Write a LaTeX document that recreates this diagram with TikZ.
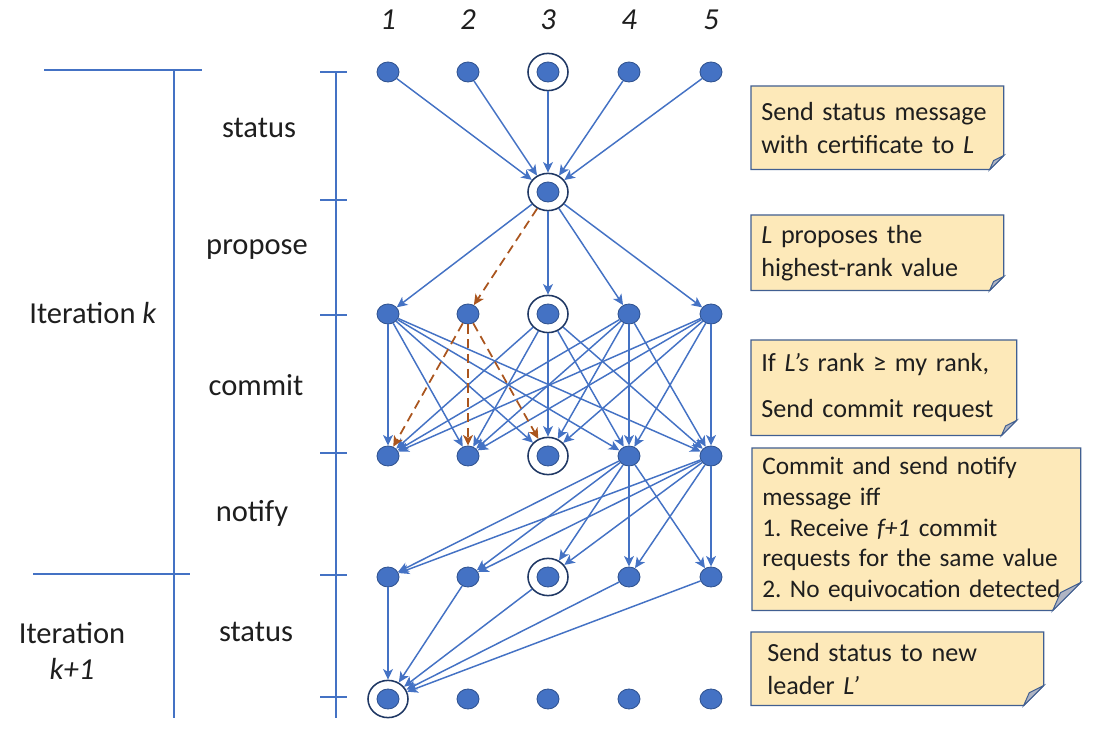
\documentclass[tikz,border=0pt]{standalone}
\usepackage{fontspec}
\setmainfont{Carlito}
\usetikzlibrary{arrows.meta,shapes.geometric,backgrounds,calc}
\definecolor{procblue}{RGB}{68,114,196}
\definecolor{procedge}{RGB}{47,82,143}
\definecolor{ringnavy}{RGB}{32,56,100}
\definecolor{equivbrown}{RGB}{170,85,30}
\definecolor{notefill}{RGB}{253,233,185}
\definecolor{noteedge}{RGB}{65,95,145}
\definecolor{foldgrey}{RGB}{175,180,195}
\definecolor{inkgrey}{RGB}{30,30,30}

% note box with folded corner, drawn behind node #1, fold size #2
\newcommand{\foldnote}[2]{%
  \begin{pgfonlayer}{background}
    \filldraw[fill=notefill, draw=noteedge, line width=0.9pt] (#1.north west) -- (#1.north east) -- ([yshift=#2]#1.south east) -- ([xshift=-#2]#1.south east) -- (#1.south west) -- cycle;
    \filldraw[fill=foldgrey, draw=noteedge, line width=0.7pt] ([yshift=#2]#1.south east) -- ([xshift=-#2]#1.south east) -- ([xshift=-0.72*#2,yshift=0.64*#2]#1.south east) -- cycle;
  \end{pgfonlayer}}

\tikzset{
  proc/.style={ellipse, fill=procblue, draw=procedge, line width=0.6pt, minimum width=0.55cm, minimum height=0.5cm, inner sep=0pt},
  ring/.style={ellipse, draw=ringnavy, line width=1.1pt, minimum width=1.0cm, minimum height=0.93cm, inner sep=0pt},
  msg/.style={-{Stealth[length=7.5pt,width=7pt,inset=2pt]}, procblue, line width=1.05pt},
  equiv/.style={msg, equivbrown, line width=1.25pt, dash pattern=on 6.5pt off 4pt},
  axis/.style={procblue, line width=1.1pt},
  phase/.style={font=\fontsize{21.7pt}{26pt}\selectfont, text=inkgrey, inner sep=0pt},
  colnum/.style={font=\fontsize{21.7pt}{26pt}\selectfont\itshape, text=inkgrey, inner sep=0pt},
  note/.style={anchor=north west, text width=#1, align=left, inner xsep=0.25cm, inner ysep=0pt, text=inkgrey, font=\fontsize{18.6pt}{23.5pt}\selectfont}
}

\begin{document}
\frenchspacing
\begin{tikzpicture}[x=0.025cm, y=-0.025cm]
  \useasboundingbox (0,0) rectangle (1100,734);

  % iteration brackets and phase axis
  \draw[axis] (44,70) -- (202,70);
  \draw[axis] (33,574) -- (190,574);
  \draw[axis] (174,70) -- (174,718);
  \draw[axis] (336,72) -- (336,718);
  \foreach \y in {72,200,315,453,575,697}
    \draw[axis] (320,\y) -- (347,\y);

  \node[phase] (iterk) at (93,313) {Iteration \textit{k}};
  \node[phase, align=center, font=\fontsize{21.7pt}{26pt}\selectfont] (iterknext) at (72,651) {Iteration\\\textit{k+1}};
  \node[phase] (statusA) at (259,128) {status};
  \node[phase] (propose) at (257,250) {propose};
  \node[phase] (commit) at (256,385) {commit};
  \node[phase] (notify) at (252,513) {notify};
  \node[phase] (statusB) at (256,632) {status};

  % processes
  \foreach \c/\x in {1/388,2/468,3/548,4/629,5/711} {
    \node[colnum] (num\c) at (\x,20) {\c};
    \foreach \r/\y in {a/72,c/314,d/456,e/577,f/699}
      \node[proc] (\r\c) at (\x,\y) {};
  }
  \node[proc] (b3) at (548,192) {};
  % leaders
  \foreach \n in {a3,b3,c3,d3,e3,f1}
    \node[ring] (\n) at (\n) {};

  % status
  \foreach \s in {1,...,5}
    \draw[msg] (a\s) -- (b3);
  % propose
  \foreach \t in {1,3,4,5}
    \draw[msg] (b3) -- (c\t);
  \draw[equiv] (b3) -- (c2);
  % commit
  \foreach \s in {1,3,4,5}
    \foreach \t in {1,...,5}
      \draw[msg] (c\s) -- (d\t);
  \foreach \t in {1,2,3}
    \draw[equiv] (c2) -- (d\t);
  % notify
  \foreach \s in {4,5}
    \foreach \t in {1,...,5}
      \draw[msg] (d\s) -- (e\t);
  % status to new leader
  \foreach \s in {1,...,5}
    \draw[msg] (e\s) -- (f1);

  % notes
  \node[note=5.8cm, minimum height=2.075cm] (statusnote) at (751,86) {Send status message\\with certificate to \textit{L}};
  \node[note=5.8cm, minimum height=1.875cm] (proposenote) at (751,215) {\textit{L} proposes the\\highest-rank value};
  \node[note=6.125cm, minimum height=2.375cm] (commitnote) at (751,340) {If \textit{L’s} rank ≥ my rank,\\[9pt]Send commit request};
  \node[note=7.7cm, minimum height=4.05cm, font=\fontsize{18pt}{22pt}\selectfont] (notifynote) at (752,448) {Commit and send notify\\message iff\\1. Receive \textit{f+1} commit\\requests for the same value\\2. No equivocation detected};
  \node[note=6.5cm, minimum height=1.825cm, inner xsep=0.4cm] (leadernote) at (751,632) {Send status to new\\leader \textit{L’}};
  \foldnote{statusnote}{0.35cm}
  \foldnote{proposenote}{0.35cm}
  \foldnote{commitnote}{0.38cm}
  \foldnote{notifynote}{0.7cm}
  \foldnote{leadernote}{0.5cm}
\end{tikzpicture}
\end{document}
